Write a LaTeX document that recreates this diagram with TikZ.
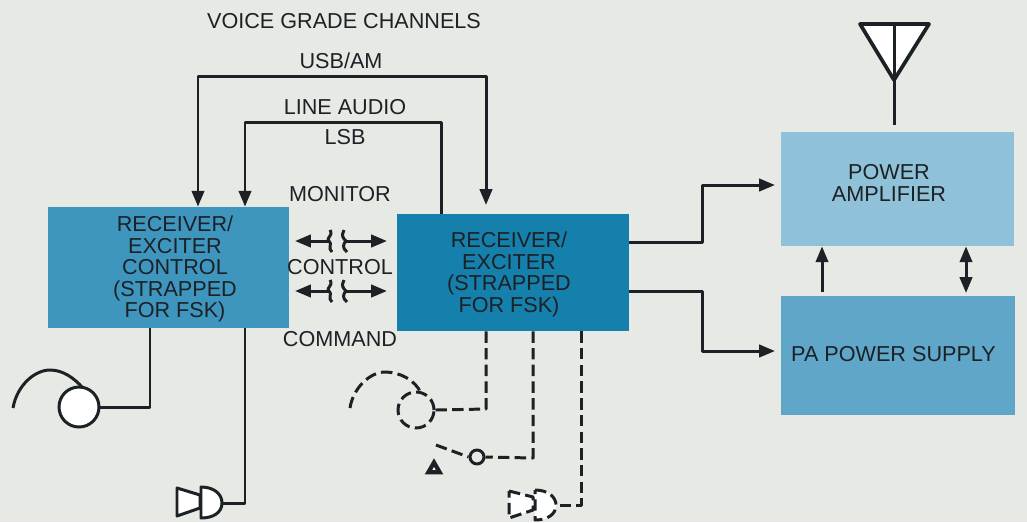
\documentclass[tikz,border=0pt]{standalone}
\usepackage{fontspec}
\setmainfont{Liberation Sans}
\usepackage{xcolor}
\usetikzlibrary{arrows.meta}
\usetikzlibrary{shapes.geometric}

\definecolor{paper}{HTML}{E7E9E4}
\definecolor{ink}{HTML}{1C2125}
\definecolor{ctrlblue}{HTML}{3E96BE}
\definecolor{rxblue}{HTML}{1580AB}
\definecolor{pablue}{HTML}{8FC2D8}
\definecolor{psblue}{HTML}{5FA6C8}

\tikzset{
	unitbox/.style={minimum width=#1*0.02cm, inner sep=0pt},
	chantag/.style={inner sep=0pt, align=center, text=ink, font=\fontsize{12.3}{12.2}\selectfont},
	wire/.style={draw=ink, line width=1.7pt, line join=round},
	dashwire/.style={wire, dash pattern=on 6.5pt off 3pt},
	feed/.style={wire, -{Triangle[length=9pt,width=7pt]}},
	feedboth/.style={wire, {Triangle[length=9pt,width=7pt]}-{Triangle[length=9pt,width=7pt]}}
}

\begin{document}
\begin{tikzpicture}[x=0.02cm,y=-0.02cm]
	\useasboundingbox[fill=paper] (0,0) rectangle (1027,522);

	% blocks
	\node (ctrl) [unitbox=241, minimum height=121*0.02cm, fill=ctrlblue] at (168.5,267.5) {};
	\node (rx) [unitbox=232, minimum height=117*0.02cm, fill=rxblue] at (513,272.5) {};
	\node (pa) [unitbox=233, minimum height=114*0.02cm, fill=pablue] at (897.5,189) {};
	\node (ps) [unitbox=234, minimum height=119*0.02cm, fill=psblue] at (898,355.5) {};

	% labels
	\node (ctrltext) [chantag] at (175,269) {RECEIVER/\\EXCITER\\CONTROL\\(STRAPPED\\FOR FSK)};
	\node (rxtext) [chantag] at (509,274.5) {RECEIVER/\\EXCITER\\(STRAPPED\\FOR FSK)};
	\node (patext) [chantag] at (889,183) {POWER\\AMPLIFIER};
	\node (pstext) [chantag] at (893.5,354) {PA POWER SUPPLY};
	\node (voice) [chantag] at (344,21) {VOICE GRADE CHANNELS};
	\node (usb) [chantag] at (341,61) {USB/AM};
	\node (audio) [chantag] at (345,107) {LINE AUDIO};
	\node (lsb) [chantag] at (345,137) {LSB};
	\node (monitor) [chantag] at (340,194) {MONITOR};
	\node (control) [chantag] at (340,267) {CONTROL};
	\node (command) [chantag] at (340,339) {COMMAND};

	% channels over the top
	\coordinate (usbl) at (198,76);
	\coordinate (usbr) at (486,76);
	\coordinate (usbin) at (486,205);
	\coordinate (lsbl) at (245,122);
	\coordinate (lsbr) at (441,122);
	\draw[feedboth] (ctrl.north -| usbl) -- (usbl) -- (usbr) -- (usbin);
	\draw[wire, {Triangle[length=9pt,width=7pt]}-] (ctrl.north -| lsbl) -- (lsbl) -- (lsbr) -- (lsbr |- rx.north);

	% broken links between the two units
	\foreach \name/\y in {mon/241,cmd/291}{
		\coordinate (\name l) at (295,\y);
		\coordinate (\name m) at (329,\y);
		\coordinate (\name n) at (346,\y);
		\coordinate (\name r) at (387,\y);
		\draw[wire, {Triangle[length=9pt,width=7pt]}-] (\name l) -- (\name m);
		\draw[wire] ([shift={(1,-11)}]\name m) .. controls +(4,6) and +(-4,-3) .. (\name m)
			.. controls +(4,3) and +(-5,-4) .. +(3,11);
		\draw[wire, -{Triangle[length=9pt,width=7pt]}] (\name n) -- (\name r);
		\draw[wire] ([shift={(-2,-11)}]\name n) .. controls +(-3,6) and +(-3,-3) .. (\name n)
			.. controls +(-3,3) and +(-5,-4) .. +(1,11);
	}

	% to the power amplifier and the supply
	\coordinate (outa) at (702,242);
	\coordinate (outb) at (702,185);
	\coordinate (outc) at (702,291);
	\coordinate (outd) at (702,351);
	\coordinate (paend) at (775,185);
	\coordinate (psend) at (775,351);
	\draw[feed] (rx.east |- outa) -- (outa) -- (outb) -- (paend);
	\draw[feed] (rx.east |- outc) -- (outc) -- (outd) -- (psend);
	\coordinate (psup) at (822,292);
	\coordinate (psdbl) at (966,293);
	\draw[feed] (psup) -- (pa.south -| psup);
	\draw[feedboth] (psdbl) -- (pa.south -| psdbl);

	% antenna
	\coordinate (antl) at (860,24);
	\coordinate (antr) at (929,24);
	\coordinate (antt) at (894,24);
	\coordinate (antb) at (894,80);
	\coordinate (antf) at (894,125);
	\draw[wire, fill=white, line width=2.1pt] (antl) -- (antr) -- (antb) -- cycle;
	\draw[wire] (antt) -- (antf);

	% headset and speaker of the control unit
	\node (phone) [circle, draw=ink, fill=white, line width=1.7pt, minimum size=40*0.02cm, inner sep=0pt] at (79,407) {};
	\coordinate (phonec) at (150,407);
	\coordinate (phonea) at (13,408);
	\draw[wire] (ctrl.south -| phonec) -- (phonec) -- (phone.east);
	\draw[wire] (phonea) .. controls (17,385) and (35,370) .. (50,370)
		.. controls (63,370) and (74,378) .. (83,388);
	\coordinate (spkc) at (245,503);
	\coordinate (spk) at (222,503);
	\draw[wire] (ctrl.south -| spkc) -- (spkc) -- (spk);
	\draw[wire, fill=white] (201,487) .. controls (214,487) and (222,494) .. (spk)
		.. controls (222,512) and (214,518) .. (201,518) -- cycle;
	\draw[wire, fill=white] (177,488) -- (200,495) -- (200,508) -- (177,516) -- cycle;

	% headset, switch and speaker of the exciter, all dashed
	\node (phoneb) [circle, dashwire, minimum size=36*0.02cm, inner sep=0pt] at (416,410) {};
	\coordinate (phonebc) at (486,409);
	\coordinate (phoneba) at (350,408);
	\draw[dashwire] (rx.south -| phonebc) -- (phonebc) -- (phoneb.east);
	\draw[dashwire] (phoneba) .. controls (353,388) and (370,372) .. (385,372)
		.. controls (400,372) and (415,380) .. (421,393);
	\node (sw) [circle, wire, minimum size=14*0.02cm, inner sep=0pt] at (477,457) {};
	\coordinate (swc) at (533,458);
	\coordinate (swa) at (436,445);
	\draw[dashwire] (rx.south -| swc) -- (swc) -- (sw.east);
	\draw[dashwire] (swa) -- (sw.west);
	\node (tri) [draw=ink, fill=white, line width=2.4pt, regular polygon, regular polygon sides=3, minimum size=13*0.02cm, inner sep=0pt] at (434,469) {};
	\coordinate (spkbc) at (581,505);
	\coordinate (spkb) at (556,505);
	\draw[dashwire] (rx.south -| spkbc) -- (spkbc) -- (spkb);
	\draw[dashwire, fill=white] (535,490) .. controls (548,490) and (556,497) .. (spkb)
		.. controls (556,514) and (548,520) .. (535,520) -- cycle;
	\draw[dashwire, fill=white] (509,491) -- (533,497) -- (533,510) -- (509,518) -- cycle;
\end{tikzpicture}
\end{document}
